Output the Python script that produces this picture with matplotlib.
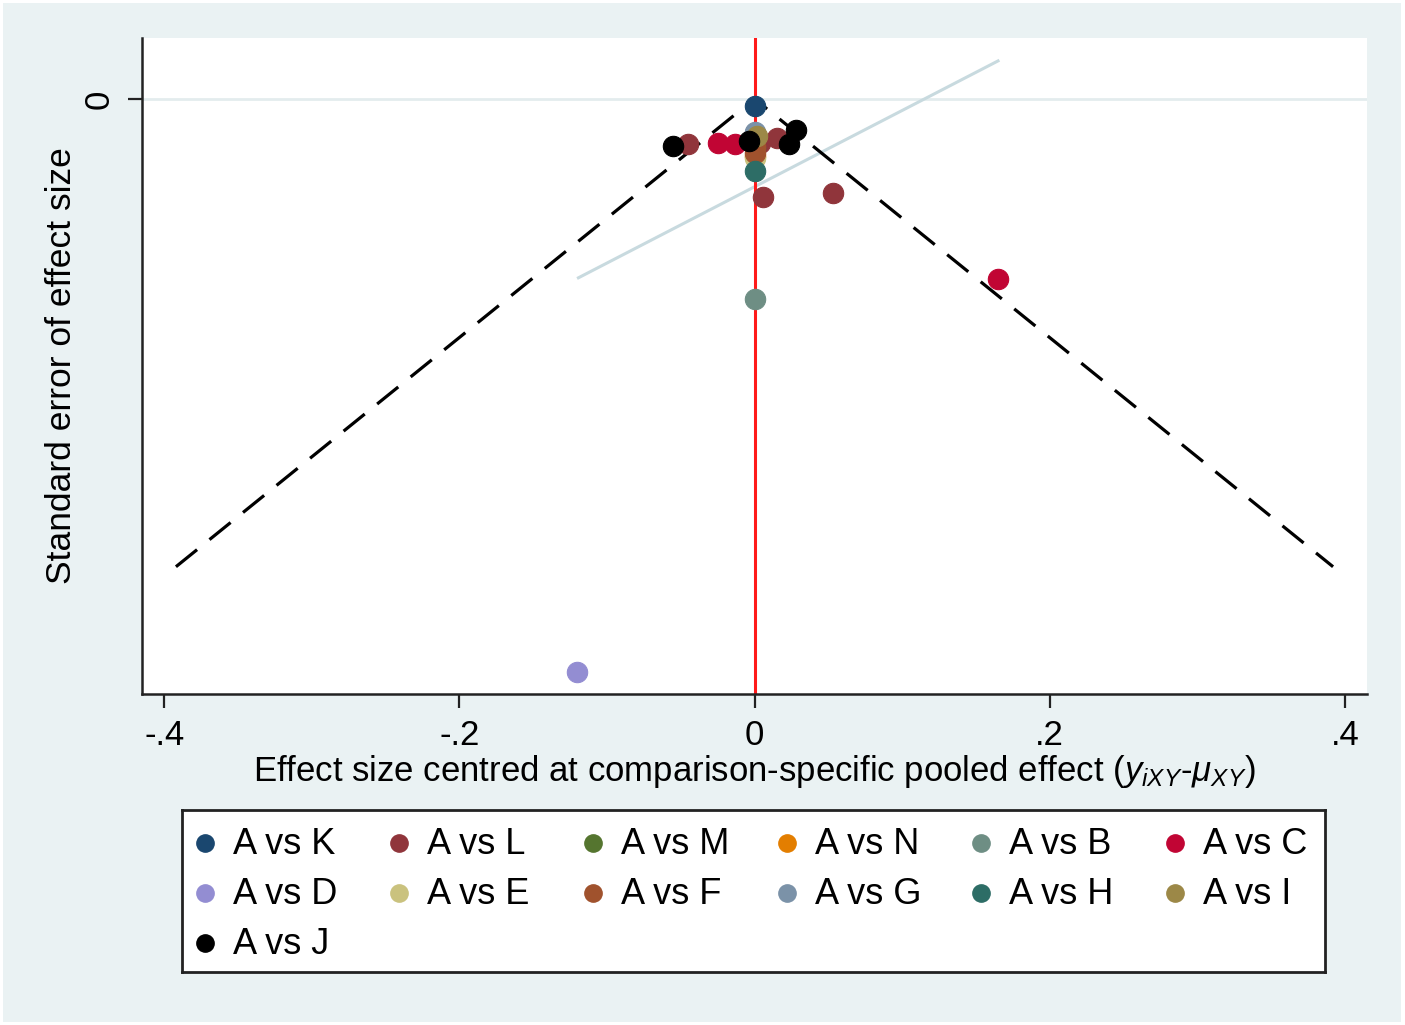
"""Comparison-adjusted funnel plot (Stata s2color look)."""

import matplotlib

matplotlib.use("Agg")
import matplotlib.pyplot as plt  # noqa: E402
from matplotlib.patches import Rectangle  # noqa: E402

plt.rcParams["font.family"] = ["Liberation Sans", "DejaVu Sans"]
plt.rcParams["mathtext.fontset"] = "custom"
plt.rcParams["mathtext.rm"] = "Liberation Sans"
plt.rcParams["mathtext.it"] = "Liberation Sans:italic"

# ---- data ------------------------------------------------------------------
comparisons = ["A vs K", "A vs L", "A vs M", "A vs N", "A vs B", "A vs C", "A vs D",
               "A vs E", "A vs F", "A vs G", "A vs H", "A vs I", "A vs J"]
colors = ["#1a476f", "#90353b", "#55752f", "#e37e00", "#6e8e84", "#c10534", "#938dd2",
          "#cac27e", "#a0522d", "#7b92a8", "#2d6d66", "#9c8847", "#000000"]

effect = {
    "A vs K": [0.000],
    "A vs L": [-0.045, 0.004, 0.015, 0.006, 0.053],
    "A vs M": [0.000],
    "A vs N": [0.000],
    "A vs B": [0.000],
    "A vs C": [-0.025, -0.013, 0.165],
    "A vs D": [0.000, -0.120],
    "A vs E": [0.000],
    "A vs F": [0.000, 0.000],
    "A vs G": [0.000],
    "A vs H": [0.000],
    "A vs I": [0.0015],
    "A vs J": [-0.055, -0.0035, 0.028, 0.0235],
}
std_err = {
    "A vs K": [0.0031],
    "A vs L": [0.0191, 0.0190, 0.0169, 0.0419, 0.0402],
    "A vs M": [0.0210],
    "A vs N": [0.0245],
    "A vs B": [0.0856],
    "A vs C": [0.0188, 0.0194, 0.0770],
    "A vs D": [0.0147, 0.2449],
    "A vs E": [0.0255],
    "A vs F": [0.0200, 0.0233],
    "A vs G": [0.0140],
    "A vs H": [0.0309],
    "A vs I": [0.0158],
    "A vs J": [0.0202, 0.0179, 0.0134, 0.0194],
}

# pseudo 95% limits and small-study regression line
funnel_x = [-0.392, 0.0, 0.392]
funnel_se = [0.2, 0.0, 0.2]
reg_x = [-0.1193, 0.165]
reg_se = [0.0765, -0.0162]

x_ticks = [-0.4, -0.2, 0.0, 0.2, 0.4]
x_ticklabels = ["-.4", "-.2", "0", ".2", ".4"]

# ---- figure ------------------------------------------------------------------
W, H = 1405, 1025
BG = "#eaf2f3"
FS = 25
fig = plt.figure(figsize=(W / 100, H / 100), dpi=100, facecolor="white")
fig.patches.append(Rectangle((3 / W, 3 / H), 1 - 7 / W, 1 - 6 / H,
                             transform=fig.transFigure, facecolor=BG,
                             edgecolor="none", zorder=-10))

ax = fig.add_axes([142 / W, 1 - 694 / H, (1367 - 142) / W, (694 - 38) / H])
ax.set_facecolor("white")

ax.axhline(0, color="#e3ecee", lw=2, zorder=1)
ax.plot(reg_x, reg_se, color="#c8dadf", lw=2.2, zorder=2)
ax.plot(funnel_x, funnel_se, color="black", lw=2.3, ls=(0, (8.5, 5)), zorder=3)
ax.axvline(0, color="#ff1a1a", lw=2.2, zorder=2)

for name, col in zip(comparisons, colors):
    ax.scatter(effect[name], std_err[name], s=215, color=col,
               edgecolors=col, linewidths=0.8, zorder=5)

ax.set_xlim(-0.415, 0.415)
ax.set_ylim(0.2544, -0.026)

ax.set_xticks(x_ticks)
ax.set_xticklabels(x_ticklabels)
ax.set_yticks([0])
ax.set_yticklabels(["0"], rotation=90, va="center")
ax.tick_params(axis="both", direction="out", length=10, width=1.6,
               labelsize=FS, color="#222222")
ax.tick_params(axis="x", pad=8)
ax.tick_params(axis="y", pad=9)

for side in ["top", "right"]:
    ax.spines[side].set_visible(False)
for side in ["left", "bottom"]:
    ax.spines[side].set_linewidth(1.8)
    ax.spines[side].set_color("#222222")

fig.text(62 / W, 1 - 366 / H, "Standard error of effect size", rotation=90,
         ha="center", va="center", fontsize=FS + 0.5)
fig.text(754 / W, 1 - 772 / H,
         r"Effect size centred at comparison-specific pooled effect ($y_{iXY}$-$\mu_{XY}$)",
         ha="center", va="center", fontsize=FS)

# ---- legend box (uniform Stata-style columns) --------------------------------
lx0, ly0, lx1, ly1 = 182, 810, 1325, 972
lax = fig.add_axes([lx0 / W, 1 - ly1 / H, (lx1 - lx0) / W, (ly1 - ly0) / H])
lax.set_xlim(0, lx1 - lx0)
lax.set_ylim(ly1 - ly0, 0)
lax.set_xticks([])
lax.set_yticks([])
lax.set_facecolor("white")
for sp in lax.spines.values():
    sp.set_linewidth(2)
    sp.set_color("#222222")

ncol, col_w, row_h = 6, 194, 50
for i, (name, col) in enumerate(zip(comparisons, colors)):
    c, r = i % ncol, i // ncol
    xm = 23 + c * col_w
    ym = 33 + r * row_h
    lax.scatter([xm], [ym], s=155, color=col, edgecolors=col, clip_on=False)
    lax.text(xm + 28, ym + 1, name, ha="left", va="center", fontsize=FS + 1)

fig.savefig("out.png", dpi=100, facecolor=fig.get_facecolor())
plt.close(fig)
